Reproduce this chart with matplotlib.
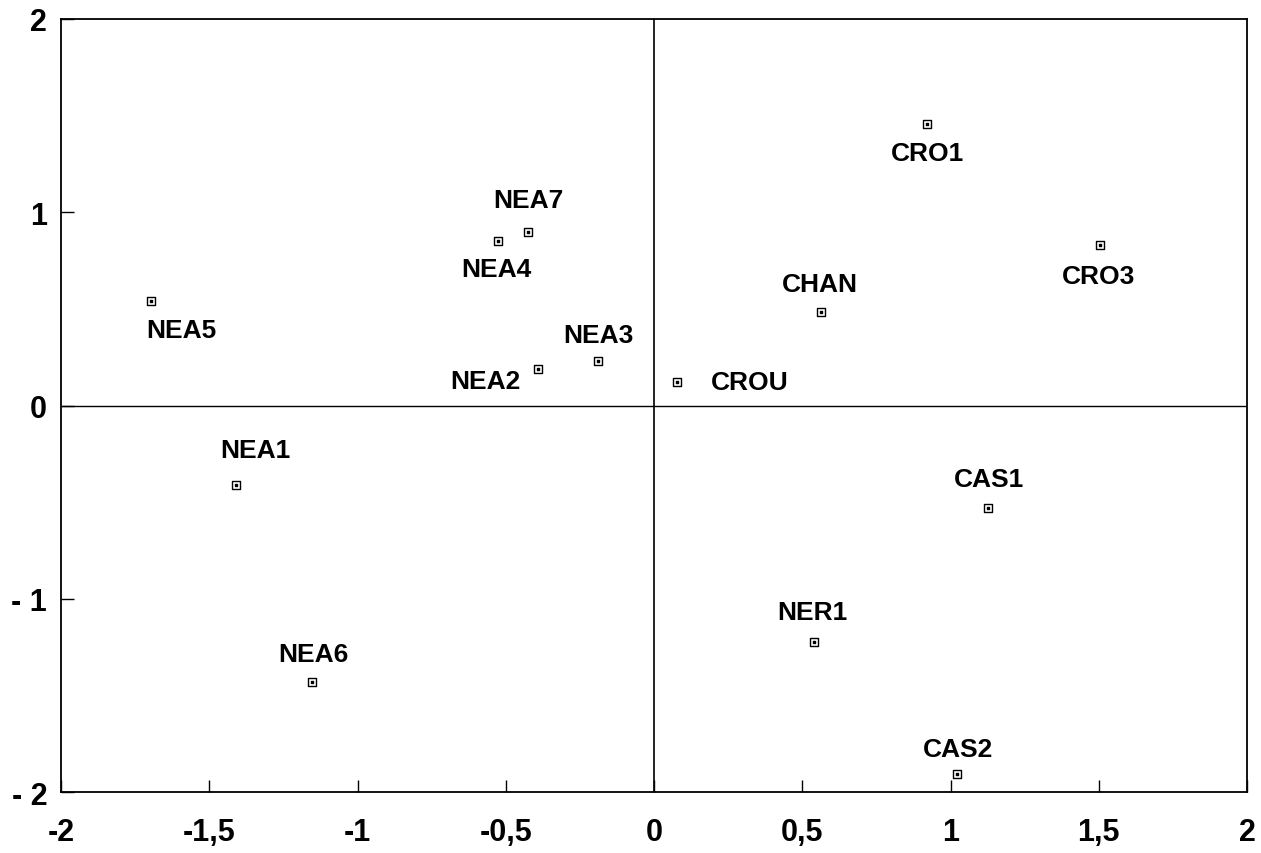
import matplotlib
matplotlib.use("Agg")
from matplotlib import pyplot as plt

# site coordinates on the two first axes
names = ["NEA5", "NEA4", "NEA7", "NEA2", "NEA3", "CROU", "CHAN", "CRO1",
         "CRO3", "NEA1", "NEA6", "CAS1", "NER1", "CAS2"]
axis1 = [-1.696, -0.526, -0.425, -0.391, -0.189, 0.078, 0.563, 0.921,
         1.504, -1.410, -1.153, 1.126, 0.540, 1.022]
axis2 = [0.541, 0.851, 0.898, 0.189, 0.230, 0.122, 0.484, 1.457,
         0.830, -0.411, -1.431, -0.530, -1.226, -1.907]

x_ticks = [-2, -1.5, -1, -0.5, 0, 0.5, 1, 1.5, 2]
x_labels = ["-2", "-1,5", "-1", "-0,5", "0", "0,5", "1", "1,5", "2"]
y_ticks = [-2, -1, 0, 1, 2]
y_labels = ["- 2", "- 1", "0", "1", "2"]

# label offset in points (dx, dy) for each site
offsets = {
    "NEA5": (22, -21), "NEA4": (-1, -20), "NEA7": (0, 23), "NEA2": (-38, -9),
    "NEA3": (0, 19), "CROU": (52, 0), "CHAN": (-1, 20), "CRO1": (0, -21),
    "CRO3": (-1, -22), "NEA1": (14, 25), "NEA6": (1, 20), "CAS1": (1, 21),
    "NER1": (-1, 22), "CAS2": (1, 18),
}

plt.rcParams['font.family'] = ['Liberation Sans', 'DejaVu Sans']

fig = plt.figure(figsize=(12.61, 8.54), dpi=100)
ax = fig.add_axes([0.0484, 0.0714, 0.9405, 0.9052])

ax.axhline(0, color='black', lw=1.0, zorder=1)
ax.axvline(0, color='black', lw=1.2, zorder=1)

ax.scatter(axis1, axis2, marker='s', s=26, facecolor='white',
           edgecolor='black', linewidth=1.0, zorder=3)
ax.scatter(axis1, axis2, marker='s', s=4, color='black', zorder=4)

for name, x, y in zip(names, axis1, axis2):
    dx, dy = offsets[name]
    ax.annotate(name, (x, y), xytext=(dx, dy), textcoords='offset points',
                ha='center', va='center', fontsize=19, fontweight='bold')

ax.set_xlim(-2, 2)
ax.set_ylim(-2, 2)
ax.set_xticks(x_ticks)
ax.set_xticklabels(x_labels)
ax.set_yticks(y_ticks)
ax.set_yticklabels(y_labels)
ax.tick_params(axis='both', direction='in', length=9, width=1,
               labelsize=22)
ax.tick_params(axis='x', pad=18)
ax.tick_params(axis='y', pad=10)
for lbl in ax.get_xticklabels() + ax.get_yticklabels():
    lbl.set_fontweight('bold')
for sp in ax.spines.values():
    sp.set_linewidth(1.3)

fig.savefig("out.png", dpi=100)
